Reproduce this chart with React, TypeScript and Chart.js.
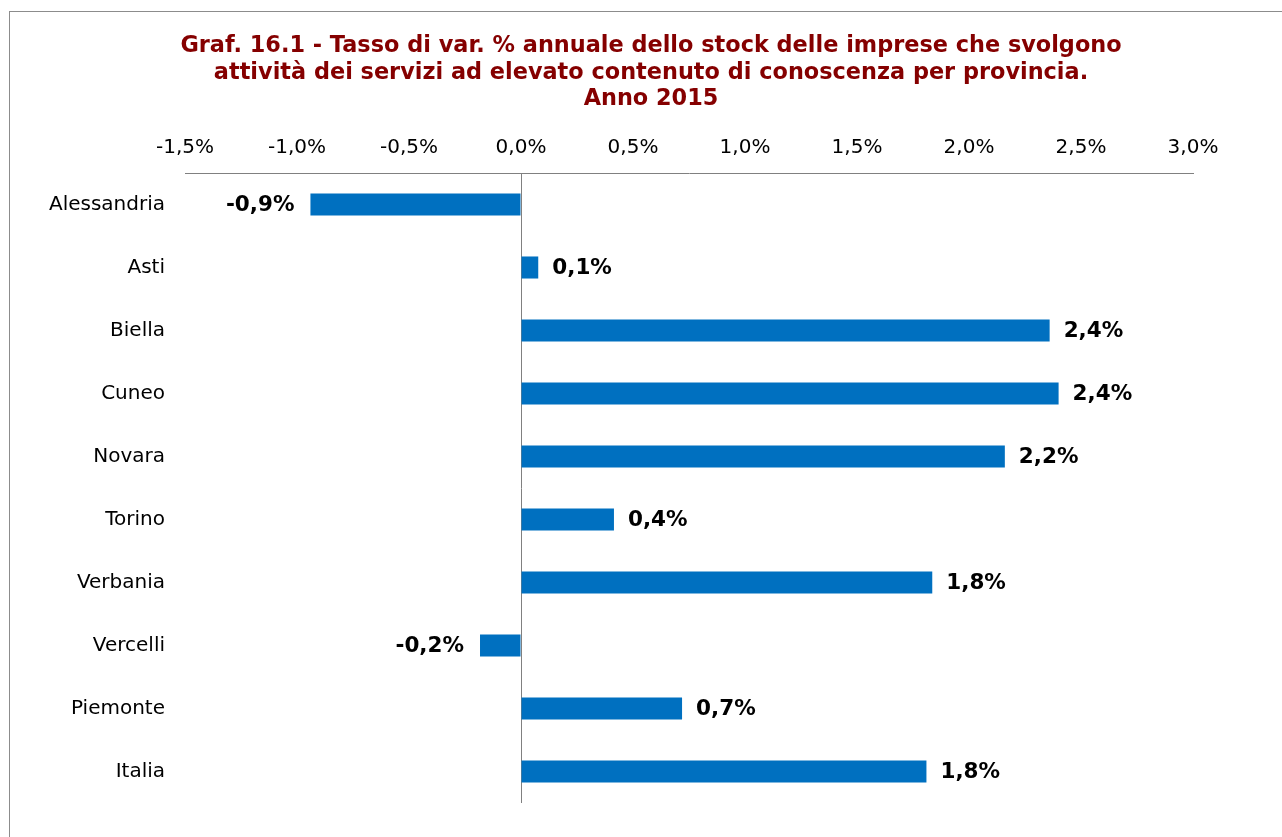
import React, { useEffect, useRef } from "react";
import { Chart, registerables } from "chart.js";

Chart.register(...registerables);

const categories = [
  "Alessandria",
  "Asti",
  "Biella",
  "Cuneo",
  "Novara",
  "Torino",
  "Verbania",
  "Vercelli",
  "Piemonte",
  "Italia",
];
const values = [-0.94, 0.077, 2.36, 2.4, 2.16, 0.415, 1.836, -0.183, 0.719, 1.81];
const titleLines = [
  "Graf. 16.1 - Tasso di var. % annuale dello stock delle imprese che svolgono",
  "attività dei servizi ad elevato contenuto di conoscenza per provincia.",
  "Anno 2015",
];
const xMin = -1.5;
const xMax = 3.0;
const xStep = 0.5;

const fmt = (v: number) => (Math.round(v * 10) / 10).toFixed(1).replace(".", ",") + "%";

const FONT = "'DejaVu Sans', Verdana, sans-serif";

const framePlugin = {
  id: "frameAndTitle",
  beforeDraw(chart: any) {
    const ctx = chart.ctx;
    ctx.save();
    ctx.fillStyle = "#ffffff";
    ctx.fillRect(0, 0, chart.width, chart.height);
    ctx.strokeStyle = "#8c8c8c";
    ctx.lineWidth = 1;
    ctx.strokeRect(9.5, 11.5, chart.width + 40, chart.height + 40);
    ctx.fillStyle = "#850000";
    ctx.font = `bold 22.4px ${FONT}`;
    ctx.textAlign = "center";
    ctx.textBaseline = "alphabetic";
    const baselines = [52, 79, 105];
    titleLines.forEach((t, i) => ctx.fillText(t, 651, baselines[i]));
    ctx.restore();
  },
};

const labelPlugin = {
  id: "valueLabels",
  afterDatasetsDraw(chart: any) {
    const ctx = chart.ctx;
    const meta = chart.getDatasetMeta(0);
    ctx.save();
    ctx.font = `bold 21.5px ${FONT}`;
    ctx.fillStyle = "#000000";
    ctx.textBaseline = "middle";
    meta.data.forEach((bar: any, i: number) => {
      const v = values[i];
      if (v >= 0) {
        ctx.textAlign = "left";
        ctx.fillText(fmt(v), bar.x + 14, bar.y + 1);
      } else {
        ctx.textAlign = "right";
        ctx.fillText(fmt(v), bar.x - 16, bar.y + 1);
      }
    });
    ctx.restore();
  },
};

export default function App() {
  const ref = useRef<HTMLCanvasElement>(null);
  useEffect(() => {
    if (!ref.current) return;
    const chart = new Chart(ref.current, {
      type: "bar",
      data: {
        labels: categories,
        datasets: [
          {
            data: values,
            backgroundColor: "#0070C0",
            borderWidth: 0,
            barPercentage: 0.35,
            categoryPercentage: 1,
          },
        ],
      },
      options: {
        indexAxis: "y",
        responsive: false,
        animation: false,
        layout: { padding: { left: 0, top: 0, right: 89, bottom: 34 } },
        plugins: { legend: { display: false }, tooltip: { enabled: false }, title: { display: false } },
        scales: {
          x: {
            position: "top",
            min: xMin,
            max: xMax,
            ticks: {
              stepSize: xStep,
              padding: 13,
              color: "#000000",
              font: { family: FONT, size: 20 },
              callback: (v: any) => fmt(Number(v)),
            },
            grid: {
              drawTicks: false,
              color: (c: any) => (c.tick && Math.abs(c.tick.value) < 1e-9 ? "#808080" : "rgba(0,0,0,0)"),
              lineWidth: 1,
            },
            border: { display: true, color: "#808080", width: 1 },
            afterFit: (s: any) => {
              s.height = 173;
            },
          },
          y: {
            ticks: {
              padding: 20,
              color: "#000000",
              font: { family: FONT, size: 20 },
            },
            grid: { display: false, drawTicks: false },
            border: { display: false },
            afterFit: (s: any) => {
              s.width = 185;
            },
          },
        },
      },
      plugins: [framePlugin, labelPlugin],
    });
    return () => chart.destroy();
  }, []);
  return (
    <div style={{ position: "absolute", left: 0, top: 0, width: 1282, height: 837 }}>
      <canvas ref={ref} width={1282} height={837} />
    </div>
  );
}
